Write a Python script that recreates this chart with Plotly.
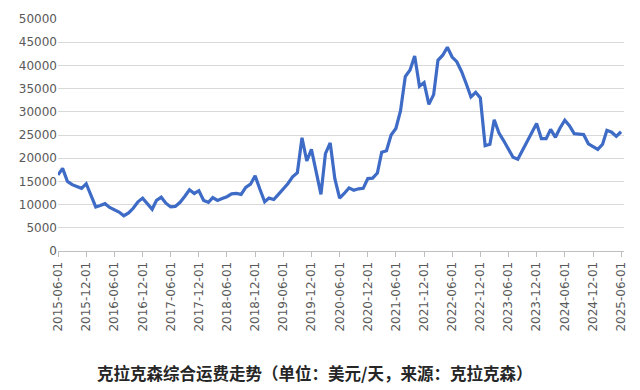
import pandas as pd
import plotly.graph_objects as go

dates = pd.date_range("2015-06-01", "2025-06-01", freq="MS").strftime("%Y-%m-%d").tolist()

values = [
    16400, 17800, 15000, 14300, 13900, 13500, 14500, 12000, 9500, 9800,
    10200, 9400, 8900, 8400, 7600, 8200, 9200, 10600, 11400, 10300,
    9000, 10900, 11600, 10300, 9500, 9600, 10500, 11800, 13200, 12400,
    13000, 10900, 10500, 11500, 10900, 11300, 11700, 12300, 12400, 12200,
    13700, 14400, 16200, 13300, 10600, 11400, 11100, 12200, 13400, 14500,
    16000, 16900, 24400, 19400, 21900, 17000, 12200, 21000, 23300, 15600,
    11400, 12400, 13600, 13100, 13400, 13500, 15600, 15700, 16800, 21300,
    21600, 25000, 26400, 30200, 37600, 39000, 42000, 35500, 36300, 31600,
    33700, 41100, 42200, 43900, 41800, 40800, 38700, 36000, 33200, 34200,
    33000, 22700, 23000, 28300, 25400, 23800, 21800, 20200, 19800, 21800,
    23900, 25800, 27500, 24200, 24200, 26200, 24500, 26500, 28200, 27000,
    25300, 25200, 25100, 23100, 22500, 21900, 23000, 26000, 25600, 24700,
    25700,
]

tick_dates = dates[::6]
tick_labels = [d for d in tick_dates]
y_ticks = list(range(0, 50001, 5000))

title_text = "克拉克森综合运费走势（单位：美元/天，来源：克拉克森）"

fig = go.Figure()
fig.add_trace(go.Scatter(
    x=dates, y=values, mode="lines",
    line=dict(color="#3d6bc6", width=3.2),
    hoverinfo="skip", showlegend=False,
))

fig.update_layout(
    width=640, height=390,
    margin=dict(l=58, r=12, t=14, b=139),
    paper_bgcolor="white", plot_bgcolor="white",
    font=dict(family="DejaVu Sans", size=12, color="#595959"),
    xaxis=dict(
        type="date",
        range=["2015-06-01", "2025-06-20"],
        tickmode="array", tickvals=tick_dates, ticktext=tick_labels,
        tickangle=-90,
        tickfont=dict(family="DejaVu Sans", size=12, color="#595959"),
        showgrid=False, zeroline=False,
        showline=True, linecolor="#bfbfbf", linewidth=1,
        ticks="outside", ticklen=5, tickcolor="#bfbfbf",
    ),
    yaxis=dict(
        range=[0, 50000],
        tickmode="array", tickvals=y_ticks,
        ticktext=[str(v) for v in y_ticks],
        tickfont=dict(family="DejaVu Sans", size=12, color="#595959"),
        showgrid=True, gridcolor="#d9d9d9", gridwidth=1,
        zeroline=False, showline=False, ticks="",
    ),
    annotations=[dict(
        text="<b>" + title_text + "</b>", xref="paper", yref="paper",
        x=0.4526, y=-0.525, xanchor="center", yanchor="middle",
        showarrow=False,
        font=dict(family="Noto Sans CJK SC", size=16.5, color="#262626"),
    )],
)

fig.write_html("out.html")
